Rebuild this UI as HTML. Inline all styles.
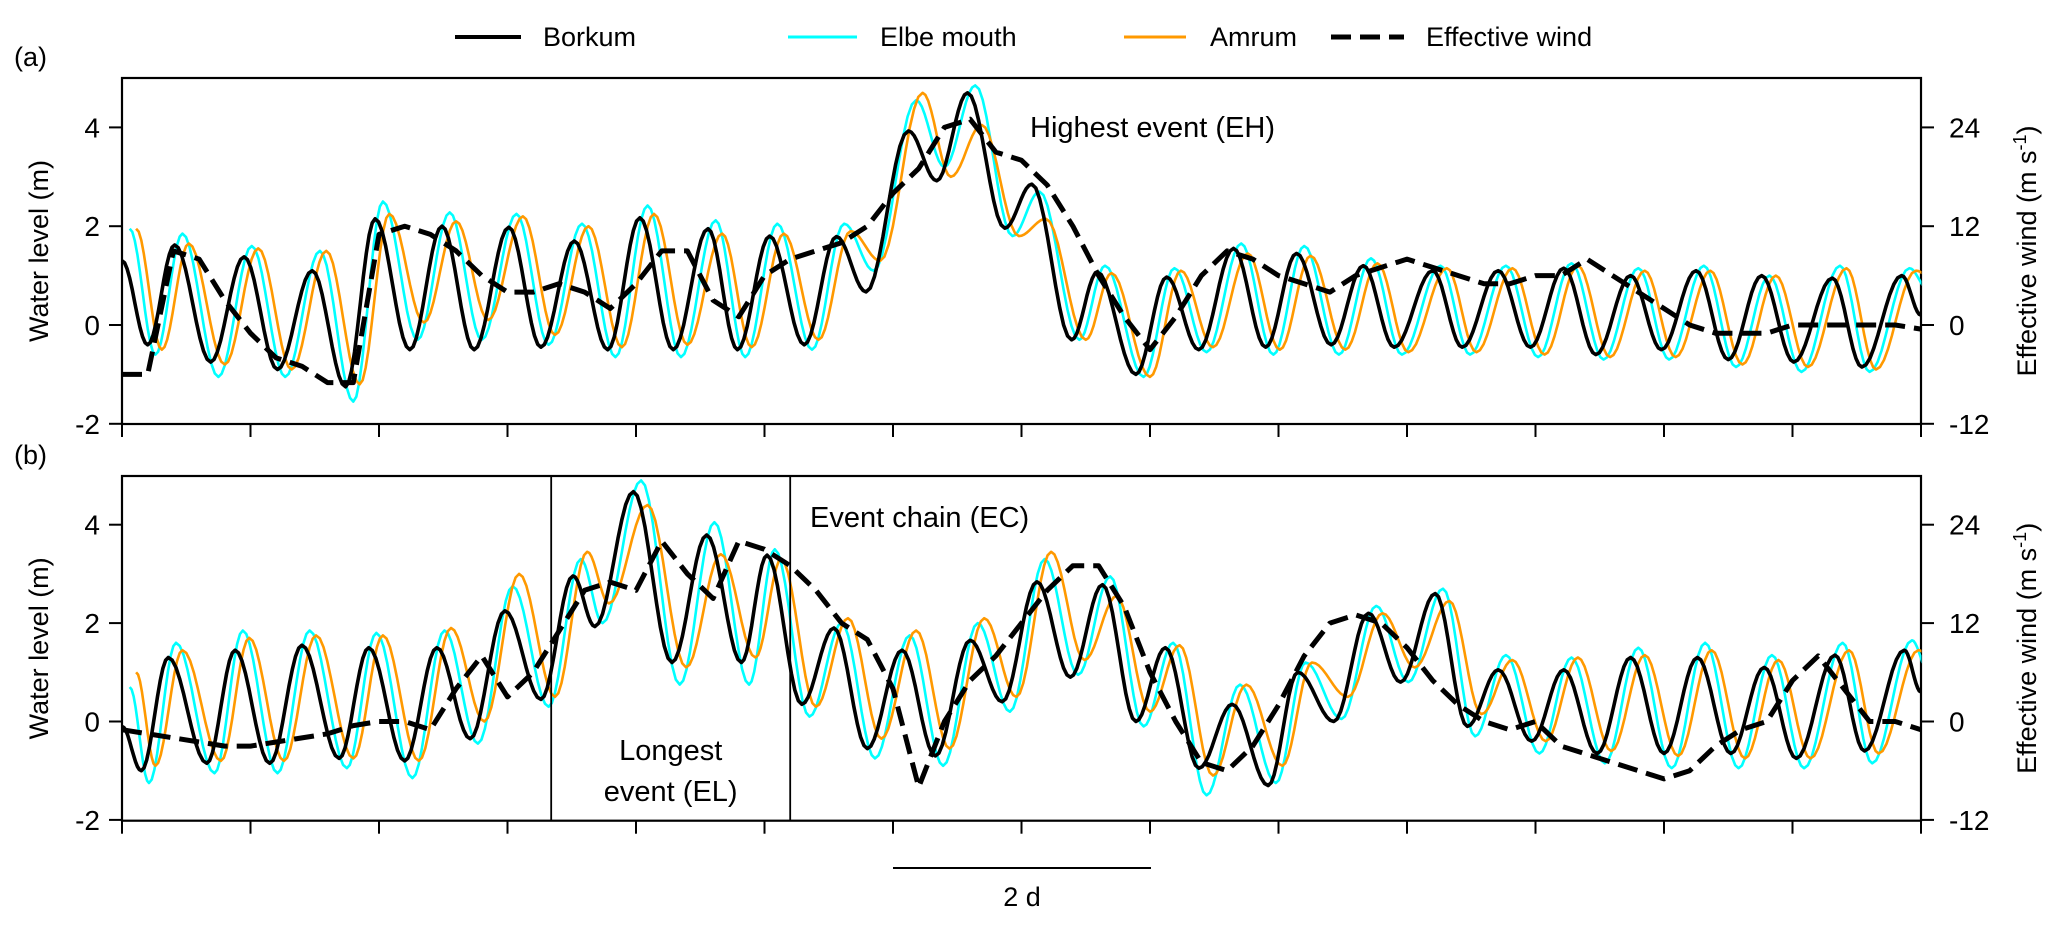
<!DOCTYPE html>
<html><head><meta charset="utf-8">
<style>
html,body{margin:0;padding:0;background:#fff;}
svg{display:block;font-family:"Liberation Sans",Arial,sans-serif;}
</style></head>
<body>
<svg id="chart" width="2067" height="928" viewBox="0 0 2067 928" xmlns="http://www.w3.org/2000/svg">
<defs>
<clipPath id="clipA"><rect x="122" y="78" width="1799.5" height="346"/></clipPath>
<clipPath id="clipB"><rect x="122" y="476" width="1799.5" height="344.7"/></clipPath>
</defs>
<g id="legend">
  <g><line x1="455" y1="37" x2="521" y2="37" stroke="#000" stroke-width="4"/><text x="543" y="46" font-size="27">Borkum</text></g>
  <g><line x1="788" y1="37" x2="857" y2="37" stroke="#00ffff" stroke-width="3"/><text x="880" y="46" font-size="27">Elbe mouth</text></g>
  <g><line x1="1124" y1="37" x2="1186" y2="37" stroke="#ff9900" stroke-width="3"/><text x="1210" y="46" font-size="27">Amrum</text></g>
  <g><line x1="1331" y1="37" x2="1404" y2="37" stroke="#000" stroke-width="5" stroke-dasharray="20 9"/><text x="1426" y="46" font-size="27">Effective wind</text></g>
</g>
<g id="panelA"></g>
<g id="panelB"></g>
<g>
  <line x1="893" y1="868" x2="1151" y2="868" stroke="#000" stroke-width="2"/>
  <text x="1022" y="906" font-size="27" text-anchor="middle">2 d</text>
</g>
</svg>
<script>
// ---------- data ----------
const borkumTimesA = [0.0,0.20,0.41,0.69,0.95,1.21,1.48,1.74,1.97,2.24,2.49,2.74,3.01,3.26,3.52,3.78,4.03,4.29,4.56,4.79,5.04,5.31,5.56,5.79,6.12,6.34,6.58,6.87,7.08,7.39,7.59,7.89,8.13,8.38,8.65,8.90,9.14,9.41,9.66,9.90,10.20,10.43,10.71,10.96,11.22,11.47,11.74,11.98,12.25,12.50,12.76,13.01,13.31,13.54,13.85,14.0];
const borkumLevelsA = [1.3,-0.4,1.62,-0.75,1.38,-0.9,1.1,-1.25,2.15,-0.5,2.0,-0.5,1.98,-0.45,1.7,-0.5,2.17,-0.5,1.95,-0.5,1.8,-0.4,1.79,0.67,3.93,2.92,4.7,1.96,2.85,-0.3,1.07,-1.0,0.97,-0.5,1.55,-0.45,1.45,-0.4,1.2,-0.45,1.1,-0.45,1.1,-0.45,1.15,-0.6,1.0,-0.5,1.1,-0.7,1.0,-0.75,0.95,-0.85,1.0,0.2];
const elbeLevelsA = [1.95,-0.6,1.85,-1.05,1.6,-1.05,1.5,-1.55,2.5,-0.3,2.28,-0.3,2.25,-0.4,2.05,-0.65,2.42,-0.65,2.12,-0.65,2.05,-0.5,2.05,1.1,4.55,3.2,4.85,1.8,2.7,-0.3,1.2,-1.05,1.15,-0.55,1.65,-0.6,1.6,-0.6,1.35,-0.6,1.2,-0.6,1.2,-0.65,1.25,-0.7,1.15,-0.7,1.2,-0.85,1.0,-0.95,1.2,-0.95,1.15,0.7];
const amrumLevelsA = [1.95,-0.5,1.65,-0.8,1.55,-0.9,1.5,-1.2,2.25,0.05,2.1,0.1,2.2,-0.2,2.0,-0.45,2.25,-0.4,1.85,-0.45,1.85,-0.3,1.9,1.3,4.7,3.0,4.05,1.8,2.15,-0.3,1.05,-1.05,1.1,-0.45,1.45,-0.5,1.4,-0.5,1.25,-0.55,1.15,-0.55,1.15,-0.6,1.2,-0.65,1.1,-0.65,1.1,-0.8,1.0,-0.85,1.15,-0.9,1.1,0.9];
const windA = [-6,-6,9,8,3,-1,-4,-5,-7,-7,11,12,11,9,6,4,4,5,4,2,5,9,9,3,1,6,8,9,10,12,16,19,24,25,21,20,17,12,6,1,-3,1,6,9,8,6,5,4,6,7,8,7,6,5,5,6,6,8,6,4,2,0,-1,-1,-1,0,0,0,0,0,-0.5];

const borkumTimesB = [0.0,0.15,0.36,0.66,0.88,1.15,1.40,1.69,1.92,2.20,2.45,2.71,2.98,3.26,3.51,3.68,3.98,4.28,4.55,4.82,5.02,5.29,5.54,5.80,6.07,6.33,6.60,6.85,7.12,7.38,7.63,7.89,8.12,8.38,8.64,8.92,9.15,9.43,9.70,9.95,10.22,10.47,10.71,10.97,11.22,11.48,11.74,12.0,12.26,12.52,12.78,13.03,13.33,13.56,13.87,14.0];
const borkumLevelsB = [-0.1,-1.0,1.3,-0.85,1.45,-0.85,1.55,-0.75,1.5,-0.8,1.5,-0.35,2.25,0.45,2.96,1.93,4.67,1.2,3.79,1.2,3.38,0.35,1.9,-0.55,1.45,-0.7,1.65,0.4,2.84,0.9,2.78,0.0,1.5,-0.95,0.35,-1.3,1.0,0.0,2.2,0.8,2.6,-0.1,1.05,-0.4,1.05,-0.65,1.3,-0.65,1.3,-0.65,1.1,-0.75,1.35,-0.6,1.45,0.6];
const elbeLevelsB = [0.7,-1.25,1.6,-1.05,1.85,-1.05,1.85,-0.95,1.8,-1.15,1.85,-0.45,2.75,0.3,3.3,2.0,4.9,0.75,4.05,0.75,3.5,0.1,2.0,-0.75,1.75,-0.9,2.0,0.2,3.3,0.95,2.95,-0.1,1.6,-1.5,0.75,-1.25,1.2,0.05,2.35,0.8,2.7,-0.3,1.35,-0.65,1.3,-0.85,1.5,-0.95,1.6,-0.95,1.35,-0.95,1.6,-0.85,1.65,1.0];
const amrumLevelsB = [1.0,-0.9,1.45,-0.8,1.7,-0.8,1.75,-0.75,1.75,-0.8,1.9,0.0,3.0,0.5,3.45,2.4,4.4,1.1,3.4,1.3,3.3,0.3,2.1,-0.35,1.85,-0.55,2.1,0.5,3.45,1.25,2.55,0.2,1.55,-1.1,0.75,-0.9,1.2,0.5,2.2,1.1,2.45,0.15,1.25,-0.4,1.3,-0.6,1.35,-0.7,1.45,-0.75,1.25,-0.75,1.45,-0.65,1.45,1.2];
const windB = [-1,-1.5,-2,-2.5,-3,-3,-2.5,-2,-1.5,-0.5,0,0,-1,4,8,3,6,11,16,17,16,22,18,15,22,21,19,16,12,10,4,-8,0,5,8,12,16,19,19,14,6,0,-5,-6,-3,2,8,12,13,12,9,5,2,0,-1,0,-3,-4,-5,-6,-7,-6,-3,-1,0,5,8,4,0,0,-1];

const elbeLag = 0.06, amrumLag = 0.11, windStep = 0.2;
const leftTicks = [-2,0,2,4];
const rightTicks = [-12,0,12,24];
const eventLines = [3.34, 5.2];

// ---------- axes ----------
const X0 = 122, DAY = 128.5, DAYS = 14, X1 = X0 + DAY*DAYS;
const NS = "http://www.w3.org/2000/svg";
function xs(t){ return X0 + t*DAY; }
function mk(tag, attrs, parent){ const e=document.createElementNS(NS,tag); for(const k in attrs) e.setAttribute(k,attrs[k]); parent.appendChild(e); return e; }

function tidePath(times, levels, lag, ys){
  let d = "";
  for(let i=0;i<times.length-1;i++){
    const t0=times[i]+lag, t1=times[i+1]+lag, v0=levels[i], v1=levels[i+1];
    const n=10;
    for(let k=(i===0?0:1);k<=n;k++){
      const s=k/n, v=v0+(v1-v0)*(1-Math.cos(Math.PI*s))/2;
      d += (d===""?"M":"L") + xs(t0+(t1-t0)*s).toFixed(1)+","+ys(v).toFixed(1);
    }
  }
  return d;
}
function windPath(vals, ys){
  return vals.map((w,i)=>(i?"L":"M")+xs(i*windStep).toFixed(1)+","+ys(w/6).toFixed(1)).join("");
}

function panel(gid, top, bottom, zeroY, pxPerM, clip, label, times, bk, el, am, wind, isB){
  const g = document.getElementById(gid);
  const ys = v => zeroY - v*pxPerM;
  const frame = mk("rect",{x:X0,y:top,width:X1-X0,height:bottom-top,fill:"none",stroke:"#000","stroke-width":2.2},g);
  
  
  // x ticks
  for(let i=0;i<=DAYS;i++){
    const t = mk("line",{x1:xs(i),x2:xs(i),y1:bottom,y2:bottom+13,stroke:"#000","stroke-width":2},g);
    
    
  }
  leftTicks.forEach(v=>{
    const l = mk("line",{x1:X0-13,x2:X0,y1:ys(v),y2:ys(v),stroke:"#000","stroke-width":2},g);
    
    
    const tx = mk("text",{x:X0-22,y:ys(v)+10,"font-size":28,"text-anchor":"end"},g);
    tx.textContent = v;
    
    
  });
  rightTicks.forEach(w=>{
    const l = mk("line",{x1:X1,x2:X1+13,y1:ys(w/6),y2:ys(w/6),stroke:"#000","stroke-width":2},g);
    
    
    const tx = mk("text",{x:X1+28,y:ys(w/6)+10,"font-size":28},g);
    tx.textContent = w;
    
    
  });
  const cy = (top+bottom)/2;
  const yt = mk("text",{x:48,y:cy,"font-size":27,"text-anchor":"middle",transform:`rotate(-90 48 ${cy})`},g);
  yt.textContent = "Water level (m)";
  
  
  const yr = mk("text",{x:2036,y:cy,"font-size":27,"text-anchor":"middle",transform:`rotate(-90 2036 ${cy})`},g);
  yr.innerHTML = 'Effective wind (m s<tspan dy="-10" font-size="18">-1</tspan><tspan dy="10">)</tspan>';
  
  
  const pl = mk("text",{x:14,y:top-12,"font-size":27},g);
  pl.textContent = label;
  
  

  const series = mk("g",{"clip-path":`url(#${clip})`},g);
  
  
  const pe = mk("path",{d:tidePath(times,el,elbeLag,ys),fill:"none",stroke:"#00ffff","stroke-width":2.6,"stroke-linejoin":"round"},series);
  
  
  const pa = mk("path",{d:tidePath(times,am,amrumLag,ys),fill:"none",stroke:"#ff9900","stroke-width":2.6,"stroke-linejoin":"round"},series);
  
  
  const pb = mk("path",{d:tidePath(times,bk,0,ys),fill:"none",stroke:"#000","stroke-width":3.6,"stroke-linejoin":"round"},series);
  
  
  const pw = mk("path",{d:windPath(wind,ys),fill:"none",stroke:"#000","stroke-width":5,"stroke-dasharray":"20 9","stroke-linejoin":"round"},series);
  
  
}

panel("panelA",78,424,325,49.4,"clipA","(a)",borkumTimesA,borkumLevelsA,elbeLevelsA,amrumLevelsA,windA,false);
panel("panelB",476,820.7,721.5,49.2,"clipB","(b)",borkumTimesB,borkumLevelsB,elbeLevelsB,amrumLevelsB,windB,true);

// annotations
const gA = document.getElementById("panelA"), gB = document.getElementById("panelB");
const eh = mk("text",{x:1030,y:137,"font-size":29},gA);
eh.textContent = "Highest event (EH)";


eventLines.forEach(t=>{
  const l = mk("line",{x1:xs(t),x2:xs(t),y1:476,y2:820.7,stroke:"#000","stroke-width":1.8},gB);
  
  
});
const ec = mk("text",{x:810,y:527,"font-size":29},gB);
ec.textContent = "Event chain (EC)";


const el1 = mk("text",{x:xs(4.27),y:760,"font-size":29,"text-anchor":"middle"},gB);
el1.textContent = "Longest";


const el2 = mk("text",{x:xs(4.27),y:801,"font-size":29,"text-anchor":"middle"},gB);
el2.textContent = "event (EL)";


</script>
</body></html>
